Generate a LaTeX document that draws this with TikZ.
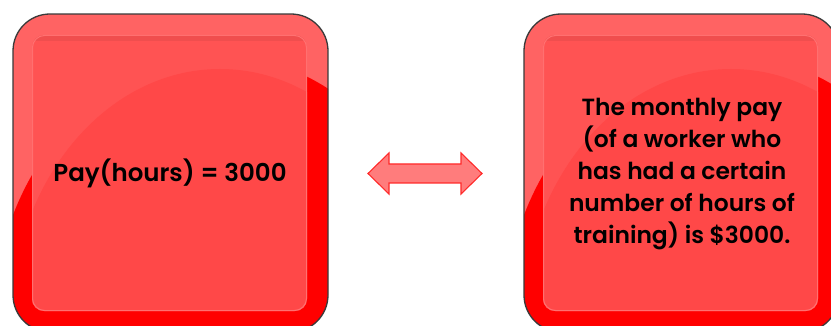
\documentclass[tikz,border=0pt]{standalone}
\usepackage{fontspec}
\setmainfont{Poppins}[BoldFont={Poppins SemiBold}]
\definecolor{framelight}{HTML}{FF6363}
\definecolor{deepred}{HTML}{FF0000}
\definecolor{panelup}{HTML}{FF5353}
\definecolor{panellow}{HTML}{FF4848}
\definecolor{panelrim}{HTML}{FF7070}
\definecolor{outlinegray}{HTML}{3A3A3A}
\definecolor{arrowfill}{HTML}{FF7C7C}
\definecolor{arrowline}{HTML}{FF2A2A}
\tikzset{
  glossbox/.pic={
    \begin{scope}
      \clip[rounded corners=37pt] (0,0) rectangle (315,318);
      \fill[framelight] (0,0) rectangle (315,318);
      \fill[deepred] (207,316) ellipse [x radius=228pt, y radius=274pt];
    \end{scope}
    \draw[outlinegray, line width=1.3pt, rounded corners=37pt] (0,0) rectangle (315,318);
    \begin{scope}
      \clip[rounded corners=12pt] (19,21) rectangle (294,297);
      \fill[panelup] (19,21) rectangle (294,297);
      \fill[panellow] (207,313) ellipse [x radius=210pt, y radius=258pt];
      \fill[black, opacity=0.06] (19,21) rectangle (294,27);
    \end{scope}
    \draw[panelrim, line width=1pt, rounded corners=12pt] (19.5,21.5) rectangle (293.5,296.5);
  },
  lbl/.style={font=\bfseries\fontsize{24.5pt}{32pt}\selectfont, text=black, align=center, inner sep=0pt},
  lblsmall/.style={lbl, font=\bfseries\fontsize{23.4pt}{32pt}\selectfont},
  fatarrow/.style={fill=arrowfill, draw=arrowline, line width=1.1pt, line join=miter}
}
\begin{document}
\begin{tikzpicture}[x=1pt, y=-1pt]
\useasboundingbox (0,0) rectangle (831,326);
\fill[white] (0,0) rectangle (831,326);
\pic at (13,14) {glossbox};
\pic at (524,14) {glossbox};
\node[lbl] (t1) at (170,173) {Pay(hours) = 3000};
\node[lblsmall] (t2) at (682,174) {The monthly pay\\(of a worker who\\has had a certain\\number of hours of\\training) is \$3000.};
\coordinate (al) at (368,173.5);
\coordinate (ar) at (482,173.5);
\draw[fatarrow] (al) -- ++(21,-20.5) -- ++(0,11) -- ++(72,0) -- ++(0,-11)
  -- (ar) -- ++(-21,20.5) -- ++(0,-11) -- ++(-72,0) -- ++(0,11) -- cycle;
\end{tikzpicture}
\end{document}
